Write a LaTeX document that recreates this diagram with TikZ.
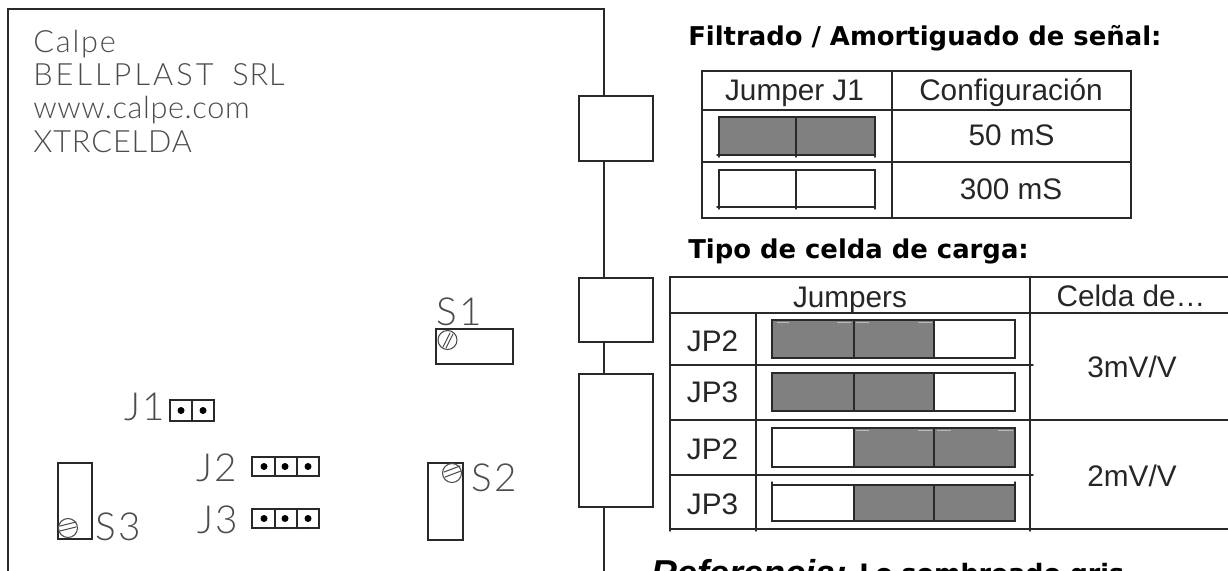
\documentclass[tikz,border=0pt]{standalone}
\usepackage{fontspec}
\setmainfont{Liberation Sans}
\newfontfamily\titlefont{DejaVu Sans}
\newfontfamily\cadfont[UprightFont=* Light,LetterSpace=6]{Lato}
\definecolor{cadgray}{rgb}{0.3,0.3,0.3}
\definecolor{linegray}{rgb}{0.16,0.16,0.16}
\definecolor{shadegray}{rgb}{0.5,0.5,0.5}
\definecolor{glintgray}{rgb}{0.72,0.72,0.72}
\tikzset{
	board/.style={line width=1.5pt,color=linegray},
	tabline/.style={line width=1.1pt,color=linegray},
	glint/.style={line width=0.8pt,color=glintgray,line cap=butt},
	cadsmall/.style={anchor=base west,inner sep=0pt,color=cadgray,font=\cadfont\fontsize{23}{23}\selectfont},
	cadbig/.style={anchor=base west,inner sep=0pt,color=cadgray,font=\cadfont\fontsize{29}{29}\selectfont},
	heading/.style={anchor=base west,inner sep=0pt,font=\titlefont\bfseries\fontsize{19.4}{20}\selectfont},
	celltext/.style={anchor=base,inner sep=0pt,color=black!85,font=\fontsize{22.3}{24}\selectfont}
}
\begin{document}
\begin{tikzpicture}[line cap=round,line join=miter,x=0.75pt,y=-0.75pt]
	\useasboundingbox (0,0) rectangle (1228,571);
	\clip (0,0) rectangle (1228,571);
	% board
	\draw [board] (8,575) -- (8,9) -- (604,9) -- (604,575);
	\draw [board,fill=white] (579,96) rectangle (653,161);
	\draw [board,fill=white] (579,278) rectangle (653,342);
	\draw [board,fill=white] (579,374) rectangle (653,507);
	\node [cadsmall] (calpe) at (33,52) {Calpe};
	\node [cadsmall] (bellplast) at (33,85) {\addfontfeature{LetterSpace=10}BELLPLAST};
	\node [cadsmall] (srl) at (232,85) {\addfontfeature{LetterSpace=3}SRL};
	\node [cadsmall] (web) at (33,118) {\addfontfeature{LetterSpace=2}www.calpe.com};
	\node [cadsmall] (xtrcelda) at (33,152) {\addfontfeature{LetterSpace=3}XTRCELDA};
	% switches
	\draw [board] (436,329) rectangle (513,364);
	\draw [line width=0.8pt,color=cadgray] (447.5,340) circle (9.5);
	\draw [line width=0.8pt,color=cadgray] (443,347) -- (450,333) (446,348) -- (453,334);
	\node [cadbig] (sone) at (436,325) {S1};
	\draw [board] (428,463) rectangle (463,540);
	\draw [line width=0.8pt,color=cadgray] (452,473) circle (9.5);
	\draw [line width=0.8pt,color=cadgray] (444,472) -- (460,466) (445,477) -- (461,471);
	\node [cadbig] (stwo) at (471,491) {S2};
	\draw [board] (58,463) rectangle (92,539);
	\draw [line width=0.8pt,color=cadgray] (68,528) circle (9.5);
	\draw [line width=0.8pt,color=cadgray] (60,526) -- (76,522) (60,531) -- (76,527);
	\node [cadbig] (sthree) at (95,540) {S3};
	% jumpers on the board
	\node [cadbig] (jone) at (124,420) {J1};
	\draw [board] (170,400) rectangle (214,421) (192,400) -- (192,421);
	\foreach \x in {181,203} \fill [black] (\x,410.5) circle (3.5);
	\node [cadbig] (jtwo) at (196,481) {J2};
	\draw [board] (252,457) rectangle (319,476) (275,457) -- (275,476) (297,457) -- (297,476);
	\foreach \x in {264,285,308} \fill [black] (\x,466.5) circle (3.5);
	\node [cadbig] (jthree) at (197,533) {J3};
	\draw [board] (252,509) rectangle (319,528) (275,509) -- (275,528) (297,509) -- (297,528);
	\foreach \x in {264,285,308} \fill [black] (\x,518.5) circle (3.5);
	% filtrado
	\node [heading] (filtrado) at (688,45) {Filtrado / Amortiguado de señal:};
	\draw [tabline] (702,71) rectangle (1131,218);
	\draw [tabline] (702,110) -- (1131,110) (702,162) -- (1131,162) (892,71) -- (892,218);
	\node [celltext] (jumperjone) at (794.5,100.5) {Jumper J1};
	\node [celltext] (configuracion) at (1011,100.5) {Configuración};
	\node [celltext] (cincuenta) at (1011.5,145) {50 mS};
	\node [celltext] (trescientos) at (1011,199) {300 mS};
	\fill [shadegray] (719,117) rectangle (875,155);
	\draw [tabline] (719,117) rectangle (875,155) (796,117) -- (796,157) (719,117) -- (719,157) (875,117) -- (875,157) (717,155) -- (875,155);
	\draw [tabline] (719,170) rectangle (875,207) (796,170) -- (796,209) (719,170) -- (719,209) (875,170) -- (875,209) (717,207) -- (875,207);
	% tipo de celda
	\node [heading] (tipo) at (688,258) {Tipo de celda de carga:};
	\draw [tabline] (1228,277) -- (670,277) -- (670,529) -- (1228,529);
	\draw [tabline] (670,313) -- (1228,313) (670,420) -- (1228,420);
	\draw [tabline] (670,365) -- (1033,365) (670,475) -- (1033,475);
	\draw [tabline] (670,529) -- (670,531) (756,313) -- (756,531) (1030,277) -- (1030,531);
	\node [celltext] (jumpers) at (850,307) {Jumpers};
	\node [celltext] (celdade) at (1131,306) {Celda de\dots};
	\node [celltext] (jptwoa) at (712.5,351) {JP2};
	\node [celltext] (jpthreea) at (712.5,402) {JP3};
	\node [celltext] (jptwob) at (712.5,459) {JP2};
	\node [celltext] (jpthreeb) at (712.5,514) {JP3};
	\node [celltext] (tresmv) at (1132,377) {3mV/V};
	\node [celltext] (dosmv) at (1132,486) {2mV/V};
	\foreach \ytop/\ybot in {320/358,373/411} {
		\fill [shadegray] (772,\ytop) rectangle (934,\ybot);
		\draw [tabline] (772,\ytop) rectangle (1015,\ybot) (854,\ytop) -- (854,\ybot) (934,\ytop) -- (934,\ybot);
	}
	\foreach \ytop/\ybot in {428/467,485/521} {
		\fill [shadegray] (854,\ytop) rectangle (1015,\ybot);
		\draw [tabline] (772,\ytop) rectangle (1015,\ybot) (854,\ytop) -- (854,\ybot) (934,\ytop) -- (934,\ybot);
	}
	\draw [tabline] (772,482) -- (772,485) (1015,482) -- (1015,485);
	\foreach \xa/\xb in {777/789,837/851,856/869,918/932} \draw [glint] (\xa,322.5) -- (\xb,322.5);
	\foreach \xa/\xb in {856/869,918/932,937/951,998/1013} \draw [glint] (\xa,430.5) -- (\xb,430.5);
	% referencia
	\node [anchor=base west,inner sep=0pt,font=\bfseries\itshape\fontsize{27}{27}\selectfont] (referencia) at (651,585) {Referencia:};
	\node [heading,font=\titlefont\bfseries\fontsize{19}{20}\selectfont] (sombreado) at (859,582) {Lo sombreado gris};
\end{tikzpicture}
\end{document}
